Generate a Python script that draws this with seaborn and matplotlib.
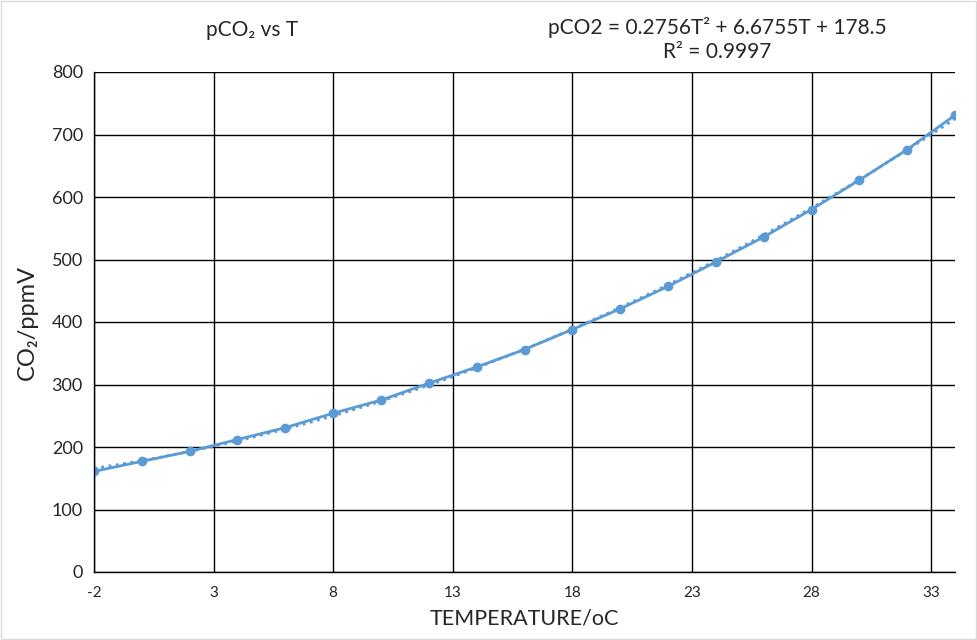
import numpy as np
import pandas as pd
import matplotlib
matplotlib.use("Agg")
import matplotlib.pyplot as plt
import seaborn as sns

# data
temperature = [-2, 0, 2, 4, 6, 8, 10, 12, 14, 16, 18, 20, 22, 24, 26, 28, 30, 32, 34]
pco2 = [161, 177, 193, 212, 231, 254, 275, 302, 328, 356, 388, 421, 457, 496, 536, 580, 627, 676, 731]
x_ticks = [-2, 3, 8, 13, 18, 23, 28, 33]
y_ticks = [0, 100, 200, 300, 400, 500, 600, 700, 800]
fit_text = "pCO2 = 0.2756T\u00b2 + 6.6755T + 178.5\nR\u00b2 = 0.9997"

df = pd.DataFrame({"T": temperature, "pCO2": pco2})

# quadratic trend line
coef = np.polyfit(df["T"], df["pCO2"], 2)
t_fit = np.linspace(min(temperature), max(temperature), 200)
trend = pd.DataFrame({"T": t_fit, "pCO2": np.polyval(coef, t_fit)})

sns.set_style("white")
plt.rcParams["font.family"] = ["Lato", "DejaVu Sans"]
plt.rcParams["axes.unicode_minus"] = False

blue = "#5B9BD5"
fig = plt.figure(figsize=(9.78, 6.4), dpi=100)
ax = fig.add_axes([94 / 978, 68 / 640, (955 - 94) / 978, (572 - 72) / 640])

sns.lineplot(data=trend, x="T", y="pCO2", ax=ax, color=blue, linestyle=":", linewidth=2)
sns.lineplot(data=df, x="T", y="pCO2", ax=ax, color=blue, linewidth=2,
             marker="o", markersize=7, markeredgewidth=0)

ax.set_xlim(-2, 34)
ax.set_ylim(0, 800)
ax.set_xticks(x_ticks)
ax.set_yticks(y_ticks)
ax.tick_params(axis="x", labelsize=11, length=0, pad=10)
ax.tick_params(axis="y", labelsize=13, length=0, pad=8)
ax.grid(True, color="black", linewidth=1)
ax.set_axisbelow(True)
for side in ["top", "right"]:
    ax.spines[side].set_visible(False)
for side in ["left", "bottom"]:
    ax.spines[side].set_color("black")
    ax.spines[side].set_linewidth(1)

ax.set_xlabel("TEMPERATURE/oC", fontsize=15.5, labelpad=6)
ax.set_ylabel("CO\u2082/ppmV", fontsize=17, labelpad=10)

fig.text(252 / 978, 1 - 30 / 640, "pCO\u2082 vs T", fontsize=15, ha="center", va="center")
fig.text(717 / 978, 1 - 40 / 640, fit_text, fontsize=15, ha="center", va="center",
         linespacing=1.25)

# light chart border
fig.patches.append(plt.Rectangle((0.001, 0.002), 0.997, 0.996, transform=fig.transFigure,
                                 fill=False, edgecolor="#d9d9d9", linewidth=1))

fig.savefig("out.png", dpi=100)
